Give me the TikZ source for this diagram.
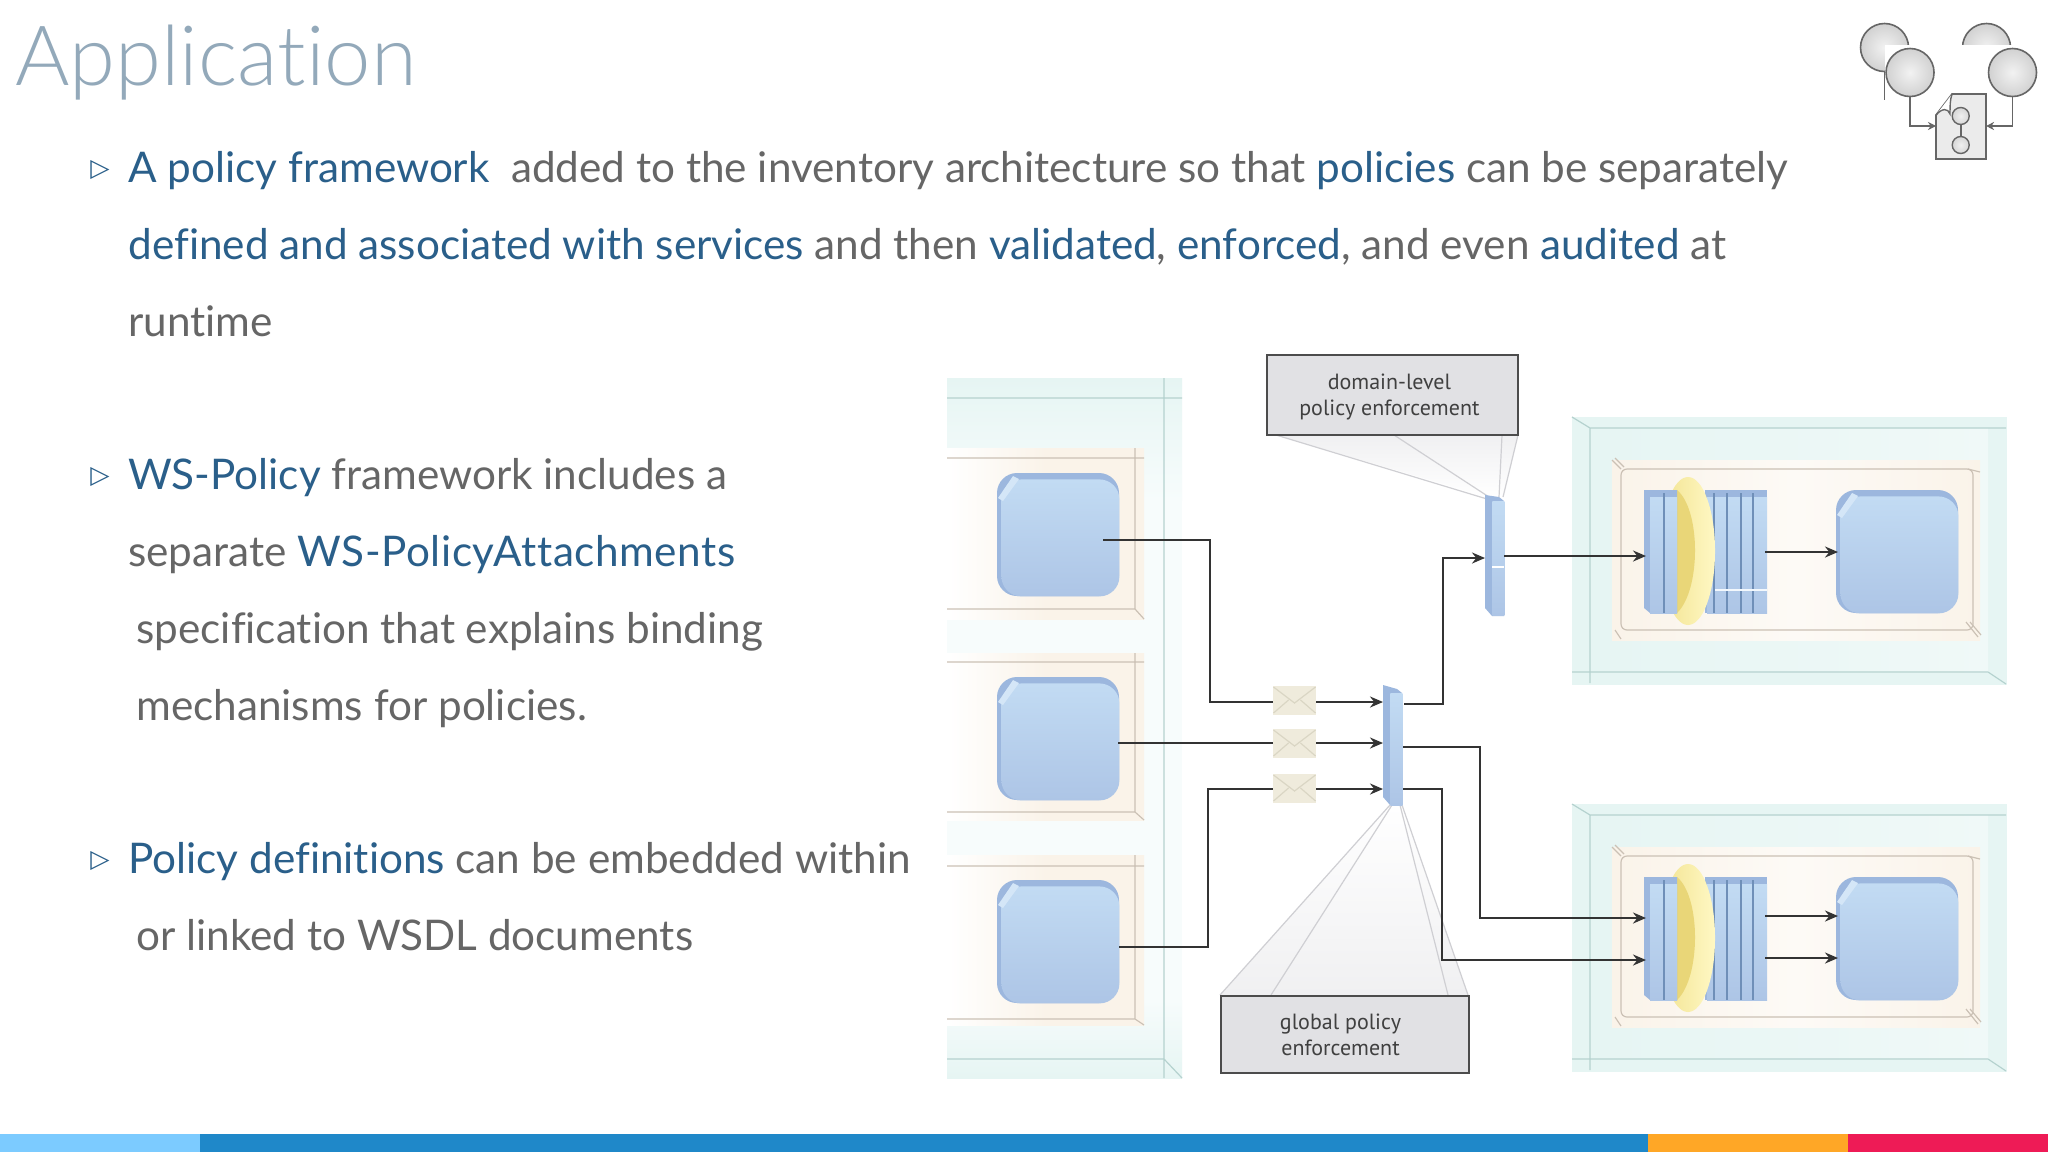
\documentclass[tikz,border=0pt]{standalone}
\usepackage{fontspec}
\setmainfont[Ligatures=NoCommon]{Lato}
\newfontfamily\titlefont[Ligatures=NoCommon]{Lato Light}
\newfontfamily\symfont{DejaVu Sans}
\newfontfamily\labelfont{PT Sans}
\usetikzlibrary{arrows.meta,shapes.geometric,calc}
\definecolor{hlblue}{HTML}{2A5F8A}
\definecolor{bodygrey}{HTML}{666666}
\definecolor{titlecol}{HTML}{93A9BA}
\definecolor{tealbg}{HTML}{E6F5F3}
\definecolor{tealpale}{HTML}{F7FCFC}
\definecolor{tealln}{HTML}{B5D2CF}
\definecolor{orangebg}{HTML}{FAF3E9}
\definecolor{orangeln}{HTML}{CBC1B5}
\definecolor{boxtop}{HTML}{C2DBF3}
\definecolor{boxbot}{HTML}{ADC5E6}
\definecolor{boxdark}{HTML}{9CB7DE}
\definecolor{slat}{HTML}{6F8FB8}
\definecolor{connc}{HTML}{333333}
\definecolor{envfill}{HTML}{EFEBDC}
\definecolor{envln}{HTML}{DAD6C4}
\definecolor{calloutfill}{HTML}{E1E1E4}
\definecolor{funnelln}{HTML}{CFCFD3}
\definecolor{ringlight}{HTML}{FFF8C4}
\definecolor{ringmid}{HTML}{F2E391}
\definecolor{ringdark}{HTML}{E9D678}
\definecolor{barA}{HTML}{7CCBFF}
\definecolor{barB}{HTML}{1F88C9}
\definecolor{barC}{HTML}{FFA726}
\definecolor{barD}{HTML}{EE1B56}
\tikzset{
 bodyline/.style={anchor=base west,inner sep=0pt,text=bodygrey,font=\fontsize{21.12}{25}\selectfont},
 bulletmark/.style={anchor=base west,inner sep=0pt,text=hlblue,font=\symfont\fontsize{12.5}{15}\selectfont},
 conn/.style={draw=connc,line width=1pt},
 arr/.style={conn,-{Stealth[length=6.5pt,width=5.5pt]}},
 callout/.style={draw=black!70,line width=1pt,fill=calloutfill,inner sep=0pt,text=black!75,font=\labelfont\fontsize{11}{13}\selectfont},
 envelope/.style={fill=envfill,inner sep=0pt,minimum width=21.5pt,minimum height=14.5pt},
 facebox/.style={rounded corners=10pt,top color=boxtop,bottom color=boxbot,inner sep=0pt,minimum width=59pt,minimum height=58.5pt},
 tealstroke/.style={draw=tealln,line width=.6pt},
 orstroke/.style={draw=orangeln,line width=.6pt},
 fun/.style={draw=funnelln,line width=.6pt},
 ball/.style={circle,draw=black!60,line width=.8pt,inner color=black!5,outer color=black!18,inner sep=0pt,minimum size=24pt},
 mini/.style={circle,draw=black!60,line width=.7pt,inner color=black!6,outer color=black!16,inner sep=0pt,minimum size=8.5pt},
}
\newcommand{\hl}[1]{\textcolor{hlblue}{#1}}
\newcommand{\twolines}[3]{\hspace*{#1}\raisebox{-1.3pt}[\height][\depth]{\begin{tabular}{@{}c@{}}#2\\#3\end{tabular}}}
% name, left x, top y : app square of 122x123 px
\newcommand{\appsq}[3]{%
 \fill[boxdark,rounded corners=10pt] (#2,#3) rectangle ++(122,123);
 \node[facebox,anchor=north west] (#1) at (#2+4,#3+6) {};
 \fill[boxtop!70!white] (#2+1,#3+25) -- (#2+16,#3+3) -- (#2+22,#3+6) -- (#2+6,#3+28) -- cycle;
}
% dy, flag : one service panel on the right
\newcommand{\servicepanel}[2]{%
 \begin{scope}[shift={(0,#1)}]
 \fill[tealbg] (1572,417) rectangle (2007,685);
 \shade[left color=tealbg,right color=tealbg!60!white] (1590,428) rectangle (1988,672);
 \shade[left color=orangebg,right color=orangebg,middle color=orangebg!40!white] (1612,460) rectangle (1980,640);
 \draw[tealstroke] (1572,417) -- (1590,428) (1590,428) -- (2006,428) (1590,428) -- (1590,683) (1572,672) -- (1988,672) (1988,672) -- (2006,684);
 \draw[orstroke,rounded corners=3pt] (1621,469) rectangle (1973,630);
 \draw[orstroke] (1612,460) -- (1621,469) (1615,458) -- (1624,467) (1968,469) -- (1980,472) (1615,630) -- (1621,639) (1966,622) -- (1978,637) (1970,622) -- (1981,635);
 % right slats, behind the ring
 \fill[boxdark] (1705,490) -- (1767,490) -- (1767,613) -- (1705,613) -- cycle;
 \shade[top color=boxtop,bottom color=boxbot] (1707,497) rectangle (1767,613);
 \draw[slat,line width=.6pt] (1714,493) -- (1714,613) (1727,493) -- (1727,613) (1741,493) -- (1741,613) (1753,493) -- (1753,613);
 \ifnum#2=1 \draw[boxtop!20!white,line width=1pt] (1715,590) -- (1767,590);\fi
 % ring
 \shade[left color=ringmid,right color=ringlight] (1688,551) ellipse [x radius=27,y radius=74];
 \fill[ringdark] (1677,490) .. controls (1701,510) and (1701,590) .. (1677,613) -- cycle;
 % left slats, in front of the ring
 \fill[boxdark] (1644,490) -- (1677,490) -- (1677,613) -- (1650,613) -- (1644,608) -- cycle;
 \shade[top color=boxtop,bottom color=boxbot] (1650,497) rectangle (1677,613);
 \draw[slat,line width=.6pt] (1664,493) -- (1664,613);
 \end{scope}
}
% name, cx, cy : envelope
\newcommand{\envl}[3]{%
 \node[envelope] (#1) at (#2,#3) {};
 \draw[envln,line width=.6pt] (#2-21,#3-13) -- (#2,#3+3) -- (#2+21,#3-13) (#2-21,#3+13) -- (#2-6,#3) (#2+21,#3+13) -- (#2+6,#3);
}
\begin{document}
\begin{tikzpicture}[x=0.5pt,y=-0.5pt]
\useasboundingbox (0,0) rectangle (2048,1152);
\fill[white] (0,0) rectangle (2048,1152);
% footer bar
\fill[barA] (0,1134) rectangle (200,1152);
\fill[barB] (200,1134) rectangle (1648,1152);
\fill[barC] (1648,1134) rectangle (1848,1152);
\fill[barD] (1848,1134) rectangle (2048,1152);
% title
\node[anchor=base west,inner sep=0pt,text=titlecol,font=\titlefont\fontsize{41.6}{48}\selectfont] (title) at (15,85) {Application};
% text
\node[bulletmark] (b1) at (90,176) {▷};
\node[bodyline] (t1) at (128,182) {\hl{A policy framework}\ \ added to the inventory architecture so that \hl{policies} can be separately};
\node[bodyline] (t2) at (128,259) {\hl{defined and associated with services} and then \hl{validated}, \hl{enforced}, and even \hl{audited} at};
\node[bodyline] (t3) at (128,336) {runtime};
\node[bulletmark] (b2) at (90,483) {▷};
\node[bodyline] (t4) at (128,489) {\hl{WS-Policy} framework includes a};
\node[bodyline] (t5) at (128,566) {separate \hl{\addfontfeature{LetterSpace=1.4}WS-PolicyAttachments}};
\node[bodyline] (t6) at (136,643) {specification that explains binding};
\node[bodyline] (t7) at (136,720) {mechanisms for policies.};
\node[bulletmark] (b3) at (90,867) {▷};
\node[bodyline] (t8) at (128,873) {\hl{Policy definitions} can be embedded within};
\node[bodyline] (t9) at (136,950) {or linked to WSDL documents};
% corner icon
\node[ball] (i1) at (1884.5,47.5) {};
\node[ball] (i3) at (1986.5,47.5) {};
\fill[white] (1885,45) rectangle (2030,94);
\draw[black!60,line width=.8pt] (1884.5,71) -- (1884.5,100);
\node[ball] (i2) at (1910,72.5) {};
\node[ball] (i4) at (2012.5,72.5) {};
\draw[black!60,line width=.8pt,fill=black!8] (1936,115) -- (1952,94) -- (1986,94) -- (1986,159) -- (1936,159) -- cycle;
\draw[black!60,line width=.7pt,fill=white] (1936,115) .. controls (1942,108) and (1948,108) .. (1950,114) .. controls (1950,106) and (1950,100) .. (1952,94);
\node[mini] (m1) at (1960.7,116) {};
\node[mini] (m2) at (1960.7,145) {};
\draw[black!60,line width=.8pt] (m1) -- (m2);
\coordinate (docL) at (1936,126);
\coordinate (docR) at (1986,126);
\draw[black!60,line width=.8pt,-{Stealth[length=4pt,width=4pt]}] (i2.south) |- (docL);
\draw[black!60,line width=.8pt,-{Stealth[length=4pt,width=4pt]}] (i4.south) |- (docR);
% left column
\shade[top color=tealbg,bottom color=tealpale] (947,378) rectangle (1182,500);
\fill[tealpale] (947,500) rectangle (1182,1000);
\shade[top color=tealpale,bottom color=tealbg] (947,1000) rectangle (1182,1078);
\draw[tealstroke] (947,398) -- (1182,398) (1164,378) -- (1164,1078) (947,1059) -- (1164,1059) (1164,1059) -- (1182,1078);
\foreach \ty/\ly/\by/\bb in {448/458/609/619,653/662/812/820,855/866/1019/1025}{
 \shade[left color=white,right color=orangebg,middle color=orangebg] (947,\ty) rectangle (1144,\bb);
 \draw[orstroke] (947,\ly) -- (1144,\ly) (947,\by) -- (1135,\by) (1135,\ty) -- (1135,\by) (1135,\by) -- (1144,\bb);
}
\appsq{appA}{997}{473}
\appsq{appB}{997}{677}
\appsq{appC}{997}{880}
% right panels
\servicepanel{0}{1}
\servicepanel{387}{0}
\appsq{appD}{1836}{490}
\appsq{appE}{1836}{877}
% funnels and callouts
\shade[top color=white,bottom color=calloutfill!50!white] (1390,805) -- (1402,805) -- (1468,995) -- (1220,995) -- cycle;
\draw[fun] (1390,805) -- (1220,995) (1392,805) -- (1271,995) (1400,805) -- (1448,995) (1402,805) -- (1468,995);
\shade[top color=calloutfill!50!white,bottom color=white] (1276,435) -- (1518,435) -- (1504,497) -- (1488,497) -- cycle;
\draw[fun] (1276,435) -- (1487,499) (1394,435) -- (1489,497) (1518,435) -- (1503,497) (1502,435) -- (1499,497);
\node[callout,minimum width=125.5pt,minimum height=40pt] (domainbox) at (1392,395) {\twolines{-2.6pt}{domain-level}{policy enforcement}};
\node[callout,minimum width=124pt,minimum height=38.5pt] (globalbox) at (1344.5,1034.5) {\twolines{-4pt}{global policy}{enforcement}};
% policy bars
\fill[boxdark] (1383,685) -- (1397,689) -- (1402,693) -- (1402,805) -- (1390,805) -- (1383,797) -- cycle;
\node[inner sep=0pt,minimum width=6pt,minimum height=56pt,anchor=north west,top color=boxtop,bottom color=boxbot] (barG) at (1390,693) {};
\fill[boxdark] (1485,495) -- (1499,497) -- (1504,501) -- (1504,616) -- (1492,616) -- (1485,608) -- cycle;
\node[inner sep=0pt,minimum width=6pt,minimum height=57pt,anchor=north west,top color=boxtop,bottom color=boxbot] (barD) at (1492,501) {};
\draw[white,line width=.6pt] (1492,567) -- (1504,567);
% envelopes
\envl{envA}{1294.5}{700}
\envl{envB}{1294.5}{743}
\envl{envC}{1294.5}{788}
% connectors
\coordinate (sA) at (1103,540);
\coordinate (kA) at (1210,702);
\coordinate (sB) at (1118,743);
\coordinate (sC) at (1119,947);
\coordinate (kC) at (1208,789);
\coordinate (oA) at (1404,704);
\coordinate (kD) at (1443,558);
\coordinate (oB) at (1403,747);
\coordinate (kE) at (1480,918);
\coordinate (oC) at (1403,789);
\coordinate (kF) at (1442,960);
\coordinate (inA) at (1383,702);
\coordinate (inB) at (1383,743);
\coordinate (inC) at (1383,789);
\coordinate (inD) at (1485,558);
\coordinate (sD) at (1504,556);
\coordinate (inS) at (1646,556);
\coordinate (inE) at (1646,918);
\coordinate (inF) at (1646,960);
\draw[conn] (sA) -| (kA) -- (envA.west |- kA);
\draw[arr] (envA.east |- kA) -- (inA);
\draw[conn] (sB) -- (envB.west);
\draw[arr] (envB.east) -- (inB);
\draw[conn] (sC) -| (kC) -- (envC.west |- kC);
\draw[arr] (envC.east |- kC) -- (inC);
\draw[arr] (oA) -| (kD) -- (inD);
\draw[arr] (oB) -| (kE) -- (inE);
\draw[arr] (oC) -| (kF) -- (inF);
\draw[arr] (sD) -- (inS);
\coordinate (aD) at (1765,552);
\coordinate (aDe) at (1838,552);
\coordinate (aE) at (1765,916);
\coordinate (aEe) at (1838,916);
\coordinate (aF) at (1765,958);
\coordinate (aFe) at (1838,958);
\draw[arr] (aD) -- (aDe);
\draw[arr] (aE) -- (aEe);
\draw[arr] (aF) -- (aFe);
\end{tikzpicture}
\end{document}
